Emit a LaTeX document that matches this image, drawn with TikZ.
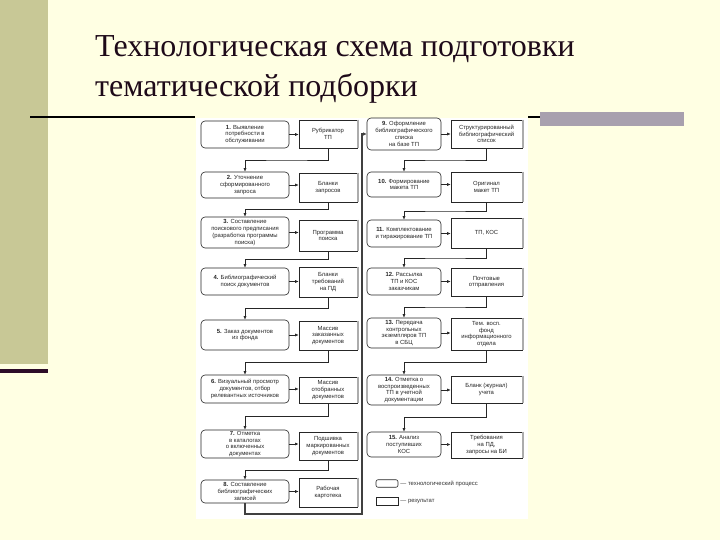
\documentclass[tikz,border=0pt]{standalone}
\usepackage{fontspec}
\setmainfont{Liberation Serif}
\newfontfamily\boxfont{Liberation Sans}
\usetikzlibrary{arrows.meta,calc}
\definecolor{bgc}{RGB}{255,255,227}
\definecolor{olivebar}{RGB}{200,200,150}
\definecolor{darkband}{RGB}{45,12,40}
\definecolor{greybar}{RGB}{168,160,174}
\definecolor{titlec}{RGB}{30,10,25}
\tikzset{
  boxbase/.style={draw=black!85, line width=0.6pt, fill=white, align=center,
    font=\boxfont\fontsize{5.9}{6.8}\selectfont, inner sep=0.5pt, text=black!85},
  lproc/.style={boxbase, rounded corners=4pt, minimum width=88pt},
  rproc/.style={boxbase, rounded corners=4pt, minimum width=74pt},
  lres/.style={boxbase, minimum width=58pt},
  rres/.style={boxbase, minimum width=71pt},
  conn/.style={draw=black!85, line width=0.6pt, -{Latex[length=3.5pt,width=3pt]}},
  retline/.style={draw=black!75, line width=1.2pt, -{Latex[length=3.5pt,width=3.5pt]}},
  titletext/.style={anchor=base west, text=titlec, font=\fontsize{32}{36}\selectfont, inner sep=0pt},
  legtext/.style={anchor=west, font=\boxfont\fontsize{5.9}{6.8}\selectfont, text=black!80, inner sep=1pt}
}
\begin{document}
\begin{tikzpicture}[x=1pt,y=-1pt]
\useasboundingbox (0,0) rectangle (720,540);
\fill[bgc] (0,0) rectangle (720,540);
\fill[olivebar] (0,0) rectangle (48,364);
\fill[darkband] (0,369) rectangle (48,372.5);
% title
\node[titletext] (t1) at (95,57) {Технологическая схема подготовки};
\node[titletext] (t2) at (95,97) {тематической подборки};
% rules
\draw[black, line width=2pt] (30,117) -- (195,117);
\draw[black, line width=2pt] (528,117) -- (684,117);
\fill[greybar] (540,112) rectangle (684,126);
% diagram area
\fill[white] (196,118) rectangle (528,519);
% left column
\node[lproc, minimum height=27pt] (p1) at (245,134.5) {\textbf{1.} Выявление\\потребности в\\обслуживании};
\node[lres, minimum height=28pt] (r1) at (328,134) {Рубрикатор\\ТП};
\node[lproc, minimum height=26pt] (p2) at (245,185) {\textbf{2.} Уточнение\\сформированного\\запроса};
\node[lres, minimum height=29pt] (r2) at (328,187.5) {Бланки\\запросов};
\node[lproc, minimum height=31pt] (p3) at (245,232.5) {\textbf{3.} Составление\\поискового предписания\\(разработка программы\\поиска)};
\node[lres, minimum height=31pt] (r3) at (328,235.5) {Программа\\поиска};
\node[lproc, minimum height=27pt] (p4) at (245,281.5) {\textbf{4.} Библиографический\\поиск документов};
\node[lres, minimum height=30pt] (r4) at (328,282) {Бланки\\требований\\на ПД};
\node[lproc, minimum height=30pt] (p5) at (245,335) {\textbf{5.} Заказ документов\\из фонда};
\node[lres, minimum height=29pt] (r5) at (328,335.5) {Массив\\заказанных\\документов};
\node[lproc, minimum height=28pt] (p6) at (245,389) {\textbf{6.} Визуальный просмотр\\документов, отбор\\релевантных источников};
\node[lres, minimum height=26pt] (r6) at (328,390) {Массив\\отобранных\\документов};
\node[lproc, minimum height=28pt] (p7) at (245,444) {\textbf{7.} Отметка\\в каталогах\\о включенных\\документах};
\node[lres, minimum height=28pt, line width=0.9pt] (r7) at (328,446) {Подшивка\\маркированных\\документов};
\node[lproc, minimum height=23pt] (p8) at (245,491.5) {\textbf{8.} Составление\\библиографических\\записей};
\node[lres, minimum height=29pt] (r8) at (328,492.5) {Рабочая\\картотека};
% right column
\node[rproc, minimum height=32pt] (p9) at (404,134) {\textbf{9.} Оформление\\библиографического\\списка\\на базе ТП};
\node[rres, minimum height=28pt] (r9) at (486.5,134) {Структурированный\\библиографический\\список};
\node[rproc, minimum height=25pt] (p10) at (404,184.5) {\textbf{10.} Формирование\\макета ТП};
\node[rres, minimum height=30pt] (r10) at (486.5,187) {Оригинал\\макет ТП};
\node[rproc, minimum height=27pt] (p11) at (404,233.5) {\textbf{11.} Комплектование\\и тиражирование ТП};
\node[rres, minimum height=30pt] (r11) at (486.5,233) {ТП, КОС};
\node[rproc, minimum height=27pt] (p12) at (404,281.5) {\textbf{12.} Рассылка\\ТП и КОС\\заказчикам};
\node[rres, minimum height=28pt] (r12) at (486.5,282) {Почтовые\\отправления};
\node[rproc, minimum height=30pt] (p13) at (404,333) {\textbf{13.} Передача\\контрольных\\экземпляров ТП\\в СБЦ};
\node[rres, minimum height=32pt, line width=0.9pt] (r13) at (486.5,334) {Тем. восп.\\фонд\\информационного\\отдела};
\node[rproc, minimum height=30pt] (p14) at (404,390) {\textbf{14.} Отметка о\\воспроизведенных\\ТП в учетной\\документации};
\node[rres, minimum height=27pt] (r14) at (486.5,389.5) {Бланк (журнал)\\учета};
\node[rproc, minimum height=25pt] (p15) at (404,444.5) {\textbf{15.} Анализ\\поступивших\\КОС};
\node[rres, minimum height=26pt, line width=0.9pt] (r15) at (486.5,445) {Требования\\на ПД,\\запросы на БИ};
% result shadows
\foreach \i in {1,...,15}
  \draw[gray!65, line width=1.4pt] ([xshift=0.7pt]r\i.north east) -- ([xshift=0.7pt]r\i.south east);
% process -> result
\foreach \i in {1,...,15}
  \draw[conn] (p\i.east) -- (p\i.east -| r\i.west);
% result -> next process
\foreach \i/\j in {1/2,2/3,3/4,4/5,5/6,6/7,7/8,9/10,10/11,11/12,12/13,13/14,14/15}
  \draw[conn] (r\i.south) |- ($(r\i.south)!.5!(p\j.north)$) -| (p\j.north);
% return line from 8 to 9
\coordinate (rb) at (362,514);
\draw[retline] (p8.south) |- (rb) |- (p9.west);
% legend
\node[boxbase, rounded corners=2pt, minimum width=22pt, minimum height=7.5pt] (lg1) at (387,483.5) {};
\node[legtext] (lt1) at (lg1.east) {\,— технологический процесс};
\node[boxbase, minimum width=22pt, minimum height=7.5pt] (lg2) at (387,501.5) {};
\node[legtext] (lt2) at (lg2.east) {\,— результат};
\end{tikzpicture}
\end{document}
